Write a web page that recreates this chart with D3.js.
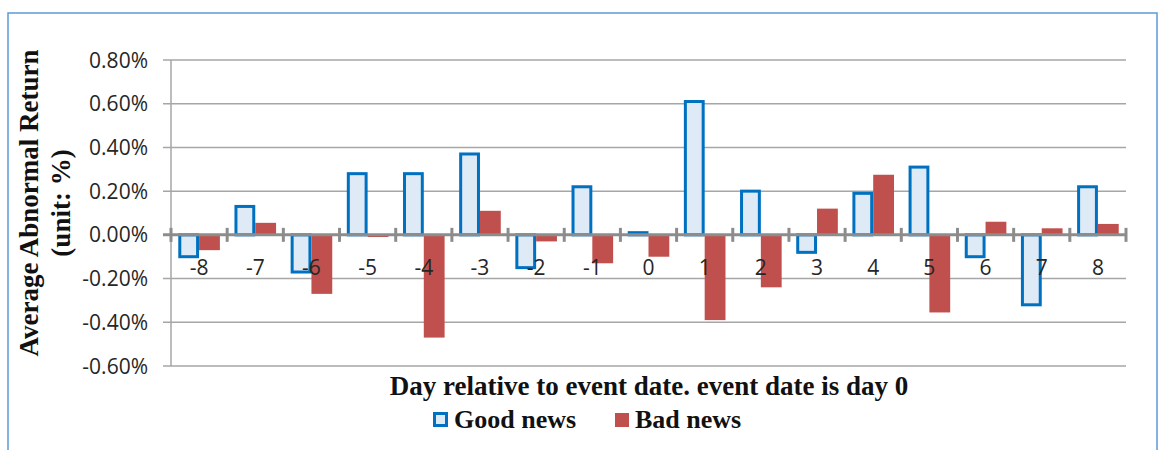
<!DOCTYPE html>
<html>
<head>
<meta charset="utf-8">
<script src="https://cdn.jsdelivr.net/npm/d3@7"></script>
<style>
  body { margin: 0; background: #fff; }
  .grid line { stroke: #a6a6a6; stroke-width: 1.5; }
  .tick-label { font-family: "Open Sans", sans-serif; font-size: 21px; fill: #262626; }
  .title { font-family: "Liberation Serif", serif; font-weight: bold; fill: #111; }
</style>
</head>
<body>
<script>
const days = ["-8","-7","-6","-5","-4","-3","-2","-1","0","1","2","3","4","5","6","7","8"];
const goodNews = [-0.10, 0.13, -0.17, 0.28, 0.28, 0.37, -0.15, 0.22, 0.01, 0.61, 0.20, -0.08, 0.19, 0.31, -0.10, -0.32, 0.22];
const badNews = [-0.07, 0.055, -0.27, -0.01, -0.47, 0.11, -0.03, -0.13, -0.10, -0.39, -0.24, 0.12, 0.275, -0.355, 0.06, 0.03, 0.05];
const yTicks = [0.8, 0.6, 0.4, 0.2, 0, -0.2, -0.4, -0.6];
const seriesNames = ["Good news", "Bad news"];

const width = 1160, height = 450;
const svg = d3.select("body").append("svg")
  .attr("width", width)
  .attr("height", height);

// outer frame
svg.append("rect")
  .attr("x", 8).attr("y", 13)
  .attr("width", 1149).attr("height", 450)
  .attr("fill", "none")
  .attr("stroke", "#5b9bd5")
  .attr("stroke-width", 1.5);

const plotLeft = 171, plotRight = 1126, plotTop = 60, plotBottom = 366;

const x = d3.scaleBand().domain(days).range([plotLeft, plotRight]).paddingInner(0).paddingOuter(0);
const y = d3.scaleLinear().domain([-0.6, 0.8]).range([plotBottom, plotTop]);
const inner = d3.scaleBand().domain(seriesNames)
  .range([0, x.bandwidth()]).paddingInner(0).paddingOuter(0.35);

// gridlines
svg.append("g").attr("class", "grid")
  .selectAll("line").data(yTicks.filter(d => d !== 0)).join("line")
  .attr("x1", plotLeft - 8).attr("x2", plotRight)
  .attr("y1", d => y(d)).attr("y2", d => y(d));

// y axis line
svg.append("line")
  .attr("x1", plotLeft).attr("x2", plotLeft)
  .attr("y1", plotTop).attr("y2", plotBottom)
  .attr("stroke", "#a6a6a6").attr("stroke-width", 1.5);

// y tick labels
svg.append("g").selectAll("text").data(yTicks).join("text")
  .attr("class", "tick-label")
  .attr("x", 148)
  .attr("y", d => y(d))
  .attr("dy", "0.36em")
  .attr("text-anchor", "end")
  .text(d => d.toFixed(2) + "%");

// bars
const groups = svg.append("g").selectAll("g").data(days).join("g")
  .attr("transform", d => `translate(${x(d)},0)`);

groups.append("rect")
  .attr("x", inner("Good news") + 1.5)
  .attr("width", inner.bandwidth() - 3)
  .attr("y", (d, i) => Math.min(y(goodNews[i]), y(0)))
  .attr("height", (d, i) => Math.max(Math.abs(y(goodNews[i]) - y(0)), 1))
  .attr("fill", "#deebf7")
  .attr("stroke", "#0070c0")
  .attr("stroke-width", 3);

groups.append("rect")
  .attr("x", inner("Bad news"))
  .attr("width", inner.bandwidth())
  .attr("y", (d, i) => Math.min(y(badNews[i]), y(0)))
  .attr("height", (d, i) => Math.max(Math.abs(y(badNews[i]) - y(0)), 1))
  .attr("fill", "#c0504d");

// zero axis with ticks
svg.append("line")
  .attr("x1", plotLeft - 8).attr("x2", plotRight)
  .attr("y1", y(0)).attr("y2", y(0))
  .attr("stroke", "#8c8c8c").attr("stroke-width", 3);

const boundaries = days.map(d => x(d)).concat([plotRight]);
svg.append("g").selectAll("line").data(boundaries).join("line")
  .attr("x1", d => d).attr("x2", d => d)
  .attr("y1", y(0) - 7).attr("y2", y(0) + 7)
  .attr("stroke", "#8c8c8c").attr("stroke-width", 3);

// category labels
svg.append("g").selectAll("text").data(days).join("text")
  .attr("class", "tick-label")
  .attr("x", d => x(d) + x.bandwidth() / 2)
  .attr("y", y(0) + 40)
  .attr("text-anchor", "middle")
  .text(d => d);

// y axis title
const yt = svg.append("text").attr("class", "title")
  .attr("transform", "translate(38,203) rotate(-90)")
  .attr("text-anchor", "middle")
  .style("font-size", "27px");
yt.append("tspan").attr("x", 0).attr("dy", 0).text("Average Abnormal Return");
yt.append("tspan").attr("x", 0).attr("dy", 32).text("(unit: %)");

// x axis title
svg.append("text").attr("class", "title")
  .attr("x", 649).attr("y", 395)
  .attr("text-anchor", "middle")
  .style("font-size", "27px")
  .text("Day relative to event date. event date is day 0");

// legend
const legend = svg.append("g");
legend.append("rect")
  .attr("x", 434.5).attr("y", 413.5).attr("width", 12).attr("height", 12)
  .attr("fill", "#deebf7").attr("stroke", "#0070c0").attr("stroke-width", 3);
legend.append("text").attr("class", "title")
  .attr("x", 454).attr("y", 428).style("font-size", "26px").text("Good news");
legend.append("rect")
  .attr("x", 615).attr("y", 413).attr("width", 14).attr("height", 14)
  .attr("fill", "#c0504d");
legend.append("text").attr("class", "title")
  .attr("x", 635).attr("y", 428).style("font-size", "26px").text("Bad news");
</script>
</body>
</html>
